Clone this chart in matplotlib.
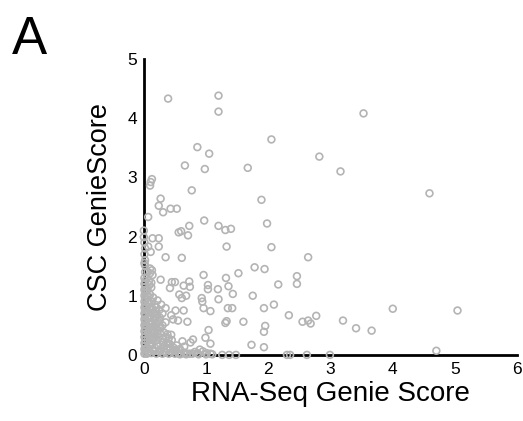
import numpy as np
import matplotlib
matplotlib.use("Agg")
import matplotlib.pyplot as plt

plt.rcParams['font.family'] = ['Liberation Sans', 'DejaVu Sans']

# scattered points (RNA-Seq score, CSC score)
rna_out = [0.39, 1.20, 1.20, 3.53, 2.05, 0.86, 1.05, 2.82, 0.66, 0.98, 1.67, 3.16,
           0.13, 0.11, 0.10, 0.77, 4.59, 0.27, 1.89, 0.24, 0.31, 0.43, 0.53, 0.07,
           0.97, 0.00, 0.60, 0.56, 0.73, 0.71, 1.20, 1.31, 1.40, 1.98, 0.00, 0.14,
           0.24, 0.24, 0.07, 0.11, 1.33, 2.05, 0.35, 0.61, 2.64, 0.02, 0.10, 0.13,
           1.78, 1.94, 1.52, 0.96, 2.46, 1.32, 0.27, 0.05, 0.45, 0.50, 0.73, 2.46,
           1.03, 1.36, 2.16, 0.64, 0.42, 0.74, 1.03, 1.19, 1.43, 1.75, 0.57, 0.68,
           0.61, 0.93, 0.94, 1.20, 0.96, 1.07, 1.93, 2.09, 1.35, 1.42, 4.00, 5.04,
           0.35, 0.51, 0.64, 0.44, 2.33, 2.77, 0.47, 0.55, 0.70, 1.33, 1.31, 1.60,
           2.55, 2.64, 2.68, 3.20, 1.95, 3.41, 3.66, 1.93, 1.04, 0.99, 1.07, 0.62,
           0.79, 0.75, 1.73, 1.93, 4.70, 0.90, 0.95, 0.86, 1.01, 1.26, 1.37, 1.48,
           2.30, 2.35, 2.62, 2.99, 1.07]
csc_out = [4.33, 4.38, 4.11, 4.08, 3.64, 3.51, 3.40, 3.35, 3.20, 3.14, 3.16, 3.10,
           2.97, 2.92, 2.86, 2.78, 2.73, 2.64, 2.62, 2.52, 2.41, 2.47, 2.47, 2.33,
           2.27, 2.10, 2.09, 2.07, 2.18, 2.02, 2.18, 2.11, 2.13, 2.22, 1.99, 1.97,
           1.97, 1.83, 1.83, 1.74, 1.83, 1.82, 1.65, 1.64, 1.65, 1.51, 1.46, 1.43,
           1.48, 1.45, 1.38, 1.35, 1.33, 1.30, 1.27, 1.30, 1.23, 1.23, 1.24, 1.20,
           1.18, 1.16, 1.19, 1.17, 1.13, 1.15, 1.11, 1.11, 1.03, 1.00, 1.02, 1.00,
           0.96, 0.96, 0.90, 0.94, 0.79, 0.74, 0.79, 0.85, 0.79, 0.79, 0.78, 0.75,
           0.79, 0.75, 0.75, 0.67, 0.67, 0.66, 0.60, 0.58, 0.56, 0.57, 0.54, 0.56,
           0.56, 0.58, 0.53, 0.58, 0.49, 0.45, 0.41, 0.39, 0.42, 0.29, 0.19, 0.23,
           0.26, 0.21, 0.17, 0.13, 0.07, 0.09, 0.06, 0.03, 0.03, 0.00, 0.00, 0.00,
           0.00, 0.00, 0.00, 0.00, 0.02]

# dense group near the origin
rna_low = [0.01, 0.02, 0.01, 0.02, 0.01, 0.02, 0.01, 0.02, 0.01, 0.02, 0.01, 0.02,
           0.01, 0.02, 0.01, 0.02, 0.01, 0.02, 0.01, 0.02, 0.01, 0.02, 0.01, 0.02,
           0.01, 0.02, 0.01, 0.02, 0.01, 0.02, 0.01, 0.02, 0.01,
           0.05, 0.08, 0.12, 0.15, 0.20, 0.25, 0.30, 0.35, 0.40, 0.45, 0.50, 0.55,
           0.60, 0.65, 0.70, 0.78, 0.82,
           0.05, 0.10, 0.14, 0.18, 0.22, 0.28, 0.33, 0.38, 0.42, 0.48, 0.52, 0.58, 0.65,
           0.06, 0.10, 0.15, 0.20, 0.25, 0.30, 0.35, 0.40, 0.45,
           0.06, 0.12, 0.17, 0.22, 0.27, 0.32, 0.38,
           0.05, 0.10, 0.15, 0.20, 0.25, 0.30, 0.35,
           0.06, 0.11, 0.16, 0.21, 0.26, 0.30,
           0.05, 0.10, 0.15, 0.20, 0.25, 0.28,
           0.06, 0.12, 0.18, 0.22,
           0.05, 0.10, 0.15,
           0.06, 0.12,
           0.08, 0.12, 0.14, 0.10, 0.06,
           0.04, 0.07, 0.09, 0.13, 0.16, 0.19, 0.23, 0.27,
           0.03, 0.08, 0.12, 0.17, 0.21, 0.26, 0.31,
           0.04, 0.09, 0.14, 0.19, 0.24,
           0.03, 0.08, 0.13, 0.18, 0.23,
           0.04, 0.09, 0.14, 0.19,
           0.03, 0.08, 0.13,
           0.04, 0.09,
           0.36, 0.42, 0.47, 0.53, 0.33, 0.39, 0.44,
           0.58, 0.68, 0.74, 0.88, 1.00, 1.10]
csc_low = [0.02, 0.05, 0.10, 0.15, 0.20, 0.25, 0.30, 0.35, 0.40, 0.45, 0.50, 0.55,
           0.60, 0.65, 0.70, 0.75, 0.80, 0.85, 0.90, 0.95, 1.00, 1.05, 1.10, 1.15,
           1.20, 1.25, 1.30, 1.40, 1.55, 1.60, 1.70, 1.80, 1.90,
           0.02, 0.05, 0.03, 0.08, 0.02, 0.05, 0.02, 0.04, 0.02, 0.05, 0.02, 0.03,
           0.02, 0.04, 0.02, 0.02, 0.05,
           0.12, 0.15, 0.20, 0.12, 0.18, 0.10, 0.15, 0.10, 0.18, 0.12, 0.08, 0.10, 0.14,
           0.25, 0.30, 0.28, 0.25, 0.30, 0.22, 0.30, 0.28, 0.25,
           0.38, 0.42, 0.36, 0.40, 0.45, 0.38, 0.35,
           0.50, 0.55, 0.48, 0.52, 0.58, 0.50, 0.55,
           0.62, 0.66, 0.60, 0.68, 0.63, 0.70,
           0.75, 0.78, 0.72, 0.80, 0.76, 0.85,
           0.88, 0.90, 0.85, 0.92,
           1.00, 1.02, 0.97,
           1.10, 1.14,
           1.25, 1.22, 1.35, 1.38, 1.40,
           0.08, 0.04, 0.18, 0.25, 0.06, 0.33, 0.14, 0.07,
           0.45, 0.35, 0.52, 0.28, 0.44, 0.36, 0.28,
           0.58, 0.46, 0.40, 0.62, 0.48,
           0.68, 0.72, 0.55, 0.66, 0.56,
           0.82, 0.86, 0.78, 0.74,
           0.95, 0.98, 0.90,
           1.08, 1.18,
           0.20, 0.12, 0.08, 0.16, 0.06, 0.20, 0.34,
           0.01, 0.01, 0.02, 0.01, 0.01, 0.01]

x = np.array(rna_out + rna_low)
y = np.array(csc_out + csc_low)

fig = plt.figure(figsize=(5.23, 4.21), dpi=100)
ax = fig.add_axes([0.275, 0.157, 0.714, 0.703])

ax.scatter(x, y, s=24, facecolors='none', edgecolors='#b4b4b4',
           linewidths=1.2, clip_on=False, zorder=3)

ax.set_xlim(0, 6)
ax.set_ylim(0, 5)
ax.set_xticks(range(0, 7))
ax.set_yticks(range(0, 6))
ax.tick_params(length=0, labelsize=12.5, pad=5)

for s in ['top', 'right']:
    ax.spines[s].set_visible(False)
for s in ['left', 'bottom']:
    ax.spines[s].set_linewidth(2)
    ax.spines[s].set_color('black')
    ax.spines[s].set_zorder(2)

ax.set_xlabel('RNA-Seq Genie Score', fontsize=20, labelpad=3)
ax.set_ylabel('CSC GenieScore', fontsize=19.5, labelpad=10)

fig.text(0.022, 0.965, 'A', fontsize=38, va='top', ha='left')

fig.savefig('out.png', dpi=100)
